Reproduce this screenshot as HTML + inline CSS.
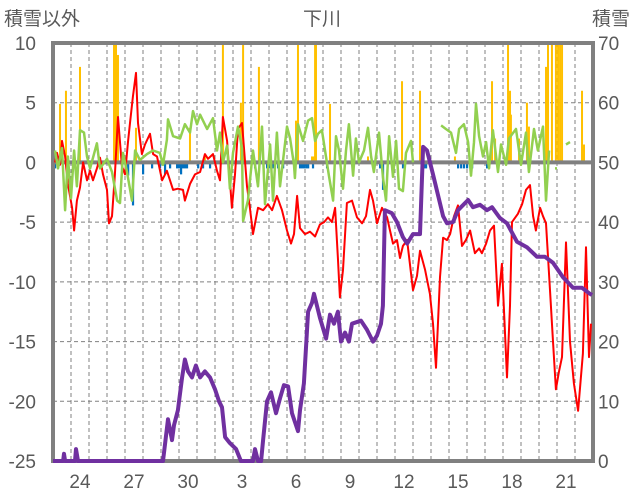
<!DOCTYPE html>
<html><head><meta charset="utf-8">
<style>
html,body{margin:0;padding:0;background:#fff;}
svg{display:block;font-family:"Liberation Sans","Noto Sans CJK JP",sans-serif;}
</style></head>
<body>
<svg id="chart" width="636" height="501" viewBox="0 0 636 501" xmlns="http://www.w3.org/2000/svg">
<text x="4" y="25" font-size="19" fill="#595959">積雪以外</text>
<text x="322" y="25" font-size="19" fill="#595959" text-anchor="middle">下川</text>
<text x="630" y="25" font-size="19" fill="#595959" text-anchor="end">積雪</text>
<g id="grid"></g>
<g id="bars"></g>
<g id="axes"></g>
<g id="lines"></g>
</svg>
<script>
const dayLabels=["24","27","30","3","6","9","12","15","18","21"];
const dayLabelIdx=[1,4,7,10,13,16,19,22,25,28];
const leftTicks=[10,5,0,-5,-10,-15,-20,-25];
const rightTicks=[70,60,50,40,30,20,10,0];

const redT=[0.11,0.22,0.39,0.5,0.67,0.83,1.06,1.17,1.33,1.5,1.67,1.89,2.06,2.22,2.44,2.61,2.78,3,3.11,3.28,3.44,3.61,3.83,4,4.17,4.28,4.44,4.61,4.72,4.94,5.11,5.39,5.56,5.78,6.06,6.33,6.5,6.67,6.94,7.22,7.33,7.61,7.89,8.17,8.44,8.61,8.89,9.11,9.28,9.44,9.67,9.83,9.94,10.11,10.28,10.5,10.78,10.94,11.11,11.39,11.67,11.94,12.17,12.44,12.72,13,13.22,13.39,13.56,13.72,14,14.28,14.56,14.83,15.06,15.28,15.5,15.67,15.83,15.94,16.11,16.33,16.61,16.89,17.17,17.39,17.61,17.78,18,18.28,18.56,18.72,18.89,19.11,19.28,19.44,19.67,19.83,20,20.22,20.39,20.67,20.94,21.11,21.28,21.5,21.67,21.89,22.06,22.28,22.5,22.72,22.94,23.17,23.44,23.67,23.83,24.06,24.28,24.5,24.72,24.94,25.22,25.39,25.5,25.83,26.06,26.28,26.5,26.67,26.83,27.06,27.22,27.39,27.61,27.78,27.94,28.11,28.28,28.5,28.72,28.94,29.17,29.44,29.61,29.78,29.89];
const redV=[0,0.8,-0.2,1.8,0.5,-1.8,-3.8,-5.7,-3.2,-2.1,0,-1.5,-0.7,-1.5,-0.5,0.4,-1,-2.3,-5.1,-4.5,-1,3.8,-0.3,-1,1.8,3.3,5.5,7.5,3.3,0.7,1.5,2.4,0.7,0.5,-1.5,-0.7,-1.5,-2.3,-2.2,-2.3,-3.2,-1.8,-1,-0.8,0.7,0.3,0.7,-0.7,-1.5,3.8,1.8,-1.5,-3.8,-1,2.8,3.3,-2,-3.8,-6,-3.8,-4,-3.5,-4,-2.8,-4,-5.7,-6.8,-6,-2.8,-5.5,-6,-5.8,-6.2,-5.2,-5,-4.6,-5,-3.8,-8,-11.3,-9,-3.4,-3.2,-4.6,-5.1,-4.5,-2.3,-3.2,-5.1,-3.8,-4.6,-5.7,-6.8,-6.5,-8,-7,-6.5,-8.5,-10.7,-9.5,-7.4,-9,-11,-13.5,-17.2,-9.6,-6.3,-6.5,-6,-4.5,-3.6,-7,-6.5,-5.7,-7.6,-7.2,-7.6,-6.8,-5.7,-5.3,-12,-8.5,-18,-12,-5,-4.3,-3.5,-2.3,-1.9,-4.5,-5.7,-3.8,-4.5,-5.1,-10.7,-15,-19,-17.5,-16.3,-6.7,-15,-18.5,-20.8,-16,-7.1,-16.3,-13.5];

const greenT=[0.11,0.28,0.5,0.67,0.83,1,1.17,1.33,1.5,1.72,1.89,2.06,2.44,2.61,3,3.28,3.56,3.72,3.89,4.11,4.39,4.56,4.83,5.22,5.56,5.94,6.11,6.33,6.39,6.67,7.06,7.33,7.61,7.78,8,8.17,8.56,8.89,9.11,9.28,9.44,9.67,9.83,10,10.28,10.5,10.56,10.83,11.11,11.39,11.61,11.78,12.06,12.22,12.44,12.61,13,13.17,13.39,13.44,13.61,13.89,14.17,14.39,14.56,14.72,14.94,15.33,15.56,15.72,15.89,16.11,16.28,16.44,16.67,16.83,17,17.28,17.5,17.67,17.83,18.11,18.33,18.5,18.67,18.89,19.06,19.22,19.44,19.61,19.89,20,20.5,21.56,21.83,22.11,22.39,22.56,22.83,23.06,23.22,23.39,23.5,23.67,23.89,24.06,24.22,24.44,24.72,24.89,25.17,25.33,25.72,26,26.28,26.44,26.72,26.94,27.22,27.39,27.56,27.7,27.89,28,28.2,28.5,28.72];
const greenV=[1,-0.5,1.2,-4,0.5,-3,1,-2,2.7,2.5,0.5,-0.5,1.6,-0.5,0.3,-0.8,-3.2,-3.4,0.8,-0.8,-3.2,1,0.2,0.7,1,0.8,-0.2,1.9,3.6,2.2,2,3.2,2.5,4.3,3.2,4,2.8,3.7,1,2.5,0,1.4,-2.2,0.8,3,1.2,-4.9,-3.2,1,-2,3,-3.5,1.5,-3.2,2.5,-2,3,2,-0.2,-1.3,3.2,1.8,3.5,3.7,1.8,2.4,2.7,-1.1,-3.2,2.2,1,-2.2,1,3.2,-1.1,2,0,1,2.9,0.5,-0.8,2.5,-1.2,-3.2,2.2,-1.2,1.8,-2.2,-2.4,0.8,1.8,0,null,3.1,2.8,2.5,0.8,2.8,3.2,1.7,-1.1,1.7,4.9,2.2,0.5,1.7,-0.5,2.7,-0.8,1.5,-0.2,2,2.8,-0.2,2.5,-0.8,2.8,1,3,-3.2,1,null,-0.5,-0.5,null,1.5,1.7];

const snowT=[0,0.56,0.61,0.67,1.22,1.28,1.39,6.11,6.39,6.61,6.72,6.94,7.17,7.33,7.5,7.72,7.94,8.17,8.44,8.72,9,9.22,9.39,9.56,9.83,10.17,10.44,11.11,11.22,11.39,11.56,11.67,11.89,12.11,12.39,12.61,12.83,13.06,13.28,13.61,13.72,13.94,14.17,14.39,14.5,14.83,15.17,15.39,15.61,15.83,16,16.22,16.44,16.61,17.11,17.44,17.78,18,18.22,18.33,18.44,18.83,19.11,19.44,19.67,20,20.39,20.56,20.78,21.11,21.67,21.89,22.22,22.5,23.06,23.33,23.72,24.11,24.39,24.83,25.22,25.78,26.33,26.89,27.33,27.78,28.33,28.89,29.39,29.83,29.95];
const snowV=[0,0,1.2,0,0,2,0,0,7,3.5,6,8.5,14,17,15,14,16,14,15,14,12,10,9,4,3,2,0,0,2,0,0,3.5,10,11.5,8,10.5,12.7,12.5,8,5,8.5,13,25,26.5,28,24,20.5,24.5,23,25,20,21.5,20,23,23.5,22,20,21,23,26,42,41.5,40,37.5,36.4,38,38,52.6,52,48,41,39.8,40,42,43.7,42.5,42.9,42,42.5,40.7,39.8,36.7,35.8,34.2,34.2,33.2,30.8,29,29,28,27.8];

const snowfallT=[0.39,0.72,1.5,3.39,3.5,3.61,4.61,7.61,8.44,9.44,10.44,10.56,11.44,13.5,13.61,14.39,14.5,14.56,14.61,15.39,17.5,19.39,20.39,22.33,24.39,24.56,25.28,25.39,25.44,25.89,26.33,26.44,27.39,27.5,27.72,27.94,28.06,28.17,28.28,29.39,29.5];
const snowfallV=[4.9,6,8,10,10,9,2.9,2.9,0.5,10,5,10,8,3.5,10,0.5,0.5,10,10,4.9,0.5,6.8,6,0.5,6.8,2,10,6,4,2,5,3,8,10,10,10,10,10,10,6,1.5];
const blueT=[0.11,4.17,4.44,5,5.5,5.94,6.22,6.5,6.89,7,7.11,7.22,7.33,7.44,8.06,8.33,8.72,11.22,11.89,12.06,12.22,12.5,12.78,13.72,13.83,13.94,14.06,14.17,14.44,15.22,18.17,18.33,19.44,20.5,20.61,20.72,22.5,22.67,22.83,23,23.28,24.11,24.22];
const blueV=[-0.5,-1.1,-3.6,-1,-0.5,-0.5,-1,-0.5,-0.5,-0.5,-1,-0.5,-0.5,-0.5,-0.5,-0.5,-0.5,-0.5,-0.5,-0.5,-0.5,-0.5,-0.5,-0.5,-0.5,-0.5,-0.5,-0.5,-0.5,-0.5,-0.5,-2.3,-0.5,-0.5,-0.5,-0.5,-0.5,-0.5,-0.5,-0.5,-0.5,-0.5,-0.5];

const NS="http://www.w3.org/2000/svg";
const L=53,R=593,T=43,B=461,DAYS=30;
const xS=d=>L+d*(R-L)/DAYS;
const yL=v=>T+(10-v)*(B-T)/35;
const yR=v=>B-v*(B-T)/70;
function mk(tag,attrs,parent){const e=document.createElementNS(NS,tag);for(const k in attrs)e.setAttribute(k,attrs[k]);parent.appendChild(e);return e;}
const grid=document.getElementById('grid'),bars=document.getElementById('bars'),lines=document.getElementById('lines'),axes=document.getElementById('axes');

leftTicks.forEach((v,i)=>{
  if(v!==10&&v!==0&&v!==-25){const g=mk('line',{x1:L,x2:R,y1:yL(v),y2:yL(v),stroke:'#808080','stroke-width':1,'stroke-dasharray':'4,3'},grid);
  
  }
  const t=mk('text',{x:36,y:yL(v)+7,'font-size':19,fill:'#595959','text-anchor':'end'},axes);t.textContent=String(v);
  
  
});
rightTicks.forEach(v=>{
  const t=mk('text',{x:598,y:yR(v)+7,'font-size':19,fill:'#595959'},axes);t.textContent=String(v);
  
  
});
for(let d=1;d<DAYS;d++){
  const g=mk('line',{x1:xS(d),x2:xS(d),y1:T,y2:B,stroke:'#808080','stroke-width':1,'stroke-dasharray':'4,3'},grid);
  
  
}
dayLabels.forEach((s,i)=>{
  const t=mk('text',{x:xS(dayLabelIdx[i]+0.5),y:488,'font-size':19,fill:'#595959','text-anchor':'middle'},axes);t.textContent=s;
  
  
});

snowfallT.forEach((d,i)=>{
  const y=yL(snowfallV[i]);
  const r=mk('rect',{x:xS(d)-1,y:y,width:2,height:yL(0)-y,fill:'#FFC000'},bars);
  
  
});
blueT.forEach((d,i)=>{
  const y=yL(blueV[i]);
  const r=mk('rect',{x:xS(d)-1,y:yL(0),width:2.2,height:y-yL(0),fill:'#0070C0'},bars);
  
  
});
const zl=mk('line',{x1:L,x2:R,y1:yL(0),y2:yL(0),stroke:'#808080','stroke-width':4},bars);



const fr=mk('rect',{x:L,y:T,width:R-L,height:B-T,fill:'none',stroke:'#808080','stroke-width':4},axes);



function path(ts,vs,ys){let s='',pen=false;ts.forEach((d,i)=>{const v=vs[i];if(v===null){pen=false;return;}s+=(pen?'L':'M')+xS(d).toFixed(1)+','+ys(v).toFixed(1);pen=true;});return s;}
const pr=mk('path',{d:path(redT,redV,yL),fill:'none',stroke:'#FF0000','stroke-width':2,'stroke-linejoin':'round'},lines);


const pg=mk('path',{d:path(greenT,greenV,yL),fill:'none',stroke:'#92D050','stroke-width':2.5,'stroke-linejoin':'round'},lines);


const pp=mk('path',{d:path(snowT,snowV,yR),fill:'none',stroke:'#7030A0','stroke-width':4,'stroke-linejoin':'round'},lines);


</script>
</body></html>
